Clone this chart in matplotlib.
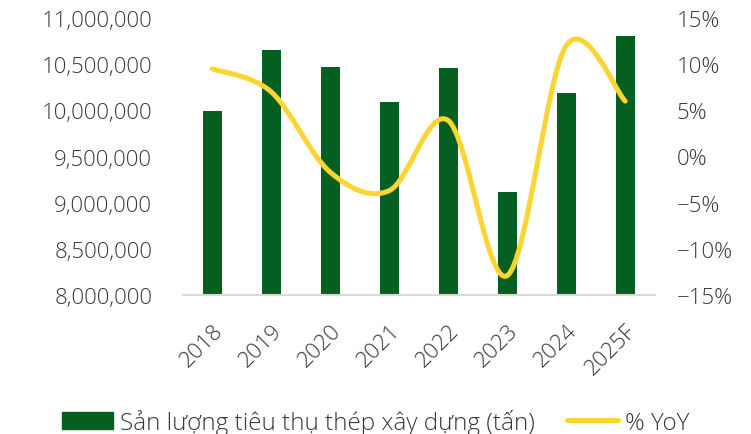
import matplotlib
matplotlib.use("Agg")
import matplotlib.pyplot as plt
from matplotlib.path import Path
from matplotlib.patches import PathPatch
from matplotlib.ticker import FuncFormatter, MultipleLocator
from matplotlib.lines import Line2D
from matplotlib.patches import Patch
import numpy as np

years = ["2018", "2019", "2020", "2021", "2022", "2023", "2024", "2025F"]
volume = [9990000, 10650000, 10470000, 10090000, 10460000, 9120000, 10190000, 10800000]
yoy = [9.5, 7.0, -1.7, -3.7, 3.9, -12.9, 12.0, 6.0]

bar_color = "#055F20"
line_color = "#FDD432"
text_color = "#383838"
font = "Open Sans"

plt.rcParams['font.family'] = [font, 'DejaVu Sans']
plt.rcParams['font.weight'] = 'light'

fig = plt.figure(figsize=(7.51, 4.35), dpi=100)
ax = fig.add_axes([182.7/751, 1-296/435, 472/751, 277/435])
x = np.arange(len(years))
ax.bar(x, volume, width=0.32, color=bar_color, zorder=2)
ax.set_xlim(-0.5, len(years)-0.5)
ax.set_ylim(8000000, 11000000)
ax.yaxis.set_major_locator(MultipleLocator(500000))
ax.yaxis.set_major_formatter(FuncFormatter(lambda v, p: f"{int(round(v)):,}"))
for s in ["top", "right", "left"]:
    ax.spines[s].set_visible(False)
ax.spines["bottom"].set_color("#D9D9D9")
ax.spines["bottom"].set_linewidth(1.5)
ax.tick_params(axis="y", length=0, pad=22, labelsize=16, labelcolor=text_color)
ax.tick_params(axis="x", length=0, pad=18, labelsize=16, labelcolor=text_color)
ax.set_xticks(x)
ax.set_xticklabels(years, rotation=45, ha="right", va="top", rotation_mode="anchor")

ax2 = ax.twinx()
ax2.set_ylim(-15, 15)
ax2.yaxis.set_major_locator(MultipleLocator(5))
ax2.yaxis.set_major_formatter(FuncFormatter(lambda v, p: f"{int(round(v))}%".replace("-", "\u2212")))
for s in ["top", "right", "left", "bottom"]:
    ax2.spines[s].set_visible(False)
ax2.tick_params(axis="y", length=0, pad=16, labelsize=16, labelcolor=text_color)

# smooth line (Catmull-Rom as cubic Bezier segments, like spreadsheet smoothing)
px = np.array(x, dtype=float)
py = np.array(yoy, dtype=float)
verts = [(px[0], py[0])]
codes = [Path.MOVETO]
n = len(px)
for i in range(n-1):
    p0 = (px[max(i-1, 0)], py[max(i-1, 0)])
    p1 = (px[i], py[i])
    p2 = (px[i+1], py[i+1])
    p3 = (px[min(i+2, n-1)], py[min(i+2, n-1)])
    c1 = (p1[0] + (p2[0]-p0[0])/6, p1[1] + (p2[1]-p0[1])/6)
    c2 = (p2[0] - (p3[0]-p1[0])/6, p2[1] - (p3[1]-p1[1])/6)
    verts += [c1, c2, p2]
    codes += [Path.CURVE4]*3
path = Path(verts, codes)
ax2.add_patch(PathPatch(path, facecolor="none", edgecolor=line_color, lw=3.6,
                        capstyle="round", joinstyle="round", zorder=3))

handles = [Patch(facecolor=bar_color, edgecolor=bar_color),
           Line2D([0], [0], color=line_color, lw=3.6, solid_capstyle="round")]
labels = ["Sản lượng tiêu thụ thép xây dựng (tấn)", "% YoY"]
fig.legend(handles, labels, loc="center", bbox_to_anchor=(0.5, 1-423/435), ncol=2,
           frameon=False, fontsize=17.5, labelcolor=text_color, handlelength=2.1,
           handleheight=0.75, handletextpad=0.3, columnspacing=1.3)

fig.savefig("out.png", dpi=100)
